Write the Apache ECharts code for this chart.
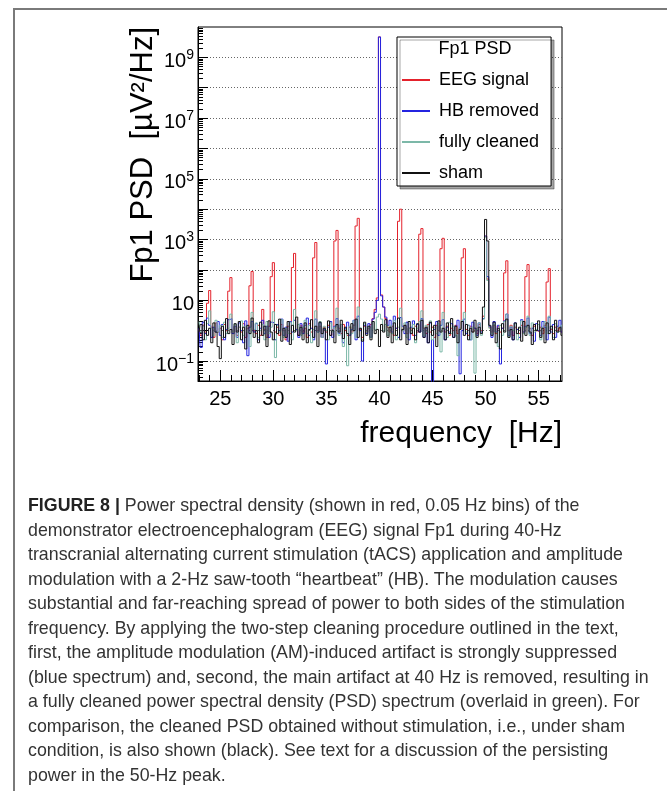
<!DOCTYPE html>
<html>
<head>
<meta charset="utf-8">
<script src="https://cdn.jsdelivr.net/npm/echarts@6/dist/echarts.min.js"></script>
<style>
  html, body { margin: 0; padding: 0; background: #fff; }
  body { width: 667px; height: 791px; position: relative; overflow: hidden; }
  .frame {
    position: absolute; left: 13px; top: 8px; width: 700px; height: 800px;
    border-left: 2px solid #7a7a7a; border-top: 2px solid #7a7a7a;
  }
  #chart { position: absolute; left: 0; top: 0; width: 667px; height: 500px; }
  .caption {
    position: absolute; left: 28px; top: 493px;
    font-family: "Liberation Sans", Arial, sans-serif;
    font-size: 17.8px; line-height: 24.5px; color: #333;
    white-space: nowrap;
  }
  .caption b { color: #222; }
</style>
</head>
<body>
<div class="frame"></div>
<div id="chart"></div>
<div class="caption">
  <b>FIGURE 8 |</b> Power spectral density (shown in red, 0.05 Hz bins) of the<br>
  demonstrator electroencephalogram (EEG) signal Fp1 during 40-Hz<br>
  transcranial alternating current stimulation (tACS) application and amplitude<br>
  modulation with a 2-Hz saw-tooth “heartbeat” (HB). The modulation causes<br>
  substantial and far-reaching spread of power to both sides of the stimulation<br>
  frequency. By applying the two-step cleaning procedure outlined in the text,<br>
  first, the amplitude modulation (AM)-induced artifact is strongly suppressed<br>
  (blue spectrum) and, second, the main artifact at 40 Hz is removed, resulting in<br>
  a fully cleaned power spectral density (PSD) spectrum (overlaid in green). For<br>
  comparison, the cleaned PSD obtained without stimulation, i.e., under sham<br>
  condition, is also shown (black). See text for a discussion of the persisting<br>
  power in the 50-Hz peak.
</div>
<script>
// bins: first bin centre and width (Hz), one row = 2 Hz
const f0 = 23;
const binWidth = 0.2;

// EEG signal (red)
const eegSignal = [
  1.1, 0.7, 1.5, 0.9, 8, 21, 1.3, 0.6, 1.8, 0.9,
  1.2, 0.5, 1.6, 1.0, 20, 56, 0.9, 1.4, 0.7, 1.3,
  0.9, 1.7, 0.6, 1.2, 30, 89, 1.0, 0.8, 1.5, 0.7,
  5, 1.1, 0.6, 1.4, 60, 174, 0.9, 1.3, 0.7, 1.6,
  1.0, 0.5, 1.4, 0.8, 120, 350, 1.1, 0.7, 1.5, 0.9,
  1.2, 0.6, 1.7, 0.9, 250, 800, 1.0, 1.4, 0.6, 1.3,
  0.9, 1.5, 0.7, 1.1, 900, 2000, 1.2, 0.8, 1.6, 1.0,
  0.7, 1.3, 0.9, 1.5, 2800, 5000, 1.1, 0.6, 1.4, 0.9,
  1.2, 1.6, 2.5, 5, 12, 4.7e9, 15, 6, 2.5, 1.3,
  0.9, 1.4, 0.7, 1.2, 4000, 10000, 1.0, 1.5, 0.8, 1.2,
  1.1, 0.7, 1.4, 0.9, 1500, 2300, 1.2, 0.8, 1.6, 0.9,
  1.3, 0.6, 1.5, 1.0, 500, 1100, 0.9, 1.4, 0.7, 1.2,
  1.0, 1.5, 0.8, 1.2, 250, 500, 1.1, 0.7, 1.4, 0.9,
  1.2, 0.8, 1.6, 1.0, 3, 1300, 50, 1.3, 0.9, 1.5,
  0.8, 1.4, 0.9, 1.2, 80, 200, 1.0, 1.5, 0.7, 1.3,
  1.1, 0.8, 1.5, 0.9, 60, 150, 1.2, 0.7, 1.4, 1.0,
  0.9, 1.3, 0.8, 1.5, 40, 110, 1.1, 0.8, 1.3, 1.0,
  1.2, 0.9
];

// HB removed (blue)
const hbRemoved = [
  1.2, 0.28, 1.9, 0.8, 2.6, 1.5, 0.6, 1.3, 0.9, 2.0,
  0.7, 1.6, 0.5, 1.1, 2.3, 2.5, 0.8, 1.4, 0.6, 1.8,
  1.0, 0.4, 2.1, 0.15, 1.3, 2.0, 0.9, 1.7, 0.5, 1.2,
  2.2, 0.8, 1.4, 0.6, 1.9, 1.8, 0.5, 1.6, 1.0, 2.4,
  0.7, 1.3, 0.45, 2.0, 0.9, 2.2, 1.1, 0.6, 1.7, 0.8,
  1.5, 2.6, 0.7, 1.2, 0.5, 2.4, 0.9, 1.8, 0.6, 1.1,
  0.08, 1.3, 2.0, 0.6, 1.4, 2.5, 0.8, 1.6, 0.4, 1.2,
  1.9, 0.7, 1.1, 2.2, 0.5, 3.0, 1.0, 0.1, 1.5, 0.8,
  1.7, 0.6, 2.4, 4, 10, 4.7e9, 14, 6, 2.8, 1.5,
  2.2, 0.9, 3.0, 1.2, 0.6, 2.7, 1.4, 0.8, 1.9, 0.5,
  1.3, 2.1, 0.7, 1.6, 0.9, 2.5, 0.6, 1.2, 0.4, 1.8,
  0.012, 1.1, 2.0, 0.7, 1.5, 2.3, 0.5, 1.3, 0.9, 1.7,
  0.6, 1.4, 2.2, 0.038, 1.0, 2.4, 0.8, 1.5, 0.5, 1.9,
  1.2, 0.7, 1.8, 0.9, 2.5, 1300, 60, 1.4, 0.6, 2.0,
  0.9, 1.5, 0.08, 1.2, 2.1, 3.5, 0.7, 1.3, 0.5, 1.8,
  1.1, 0.6, 2.3, 0.9, 1.4, 2.6, 0.8, 1.2, 0.45, 1.7,
  1.0, 0.7, 2.0, 1.3, 0.5, 2.8, 0.9, 1.6, 0.6, 1.4,
  2.2, 0.9
];

// fully cleaned (green)
const fullyCleaned = [
  2.0, 0.9, 1.4, 0.5, 1.7, 4.5, 1.2, 0.7, 2.2, 0.9,
  1.5, 0.6, 1.9, 0.8, 1.2, 3.5, 0.9, 1.6, 0.4, 1.3,
  2.1, 0.7, 1.4, 0.9, 0.3, 4.0, 1.1, 1.8, 0.6, 1.0,
  1.6, 0.5, 2.0, 0.8, 1.3, 4.2, 0.13, 1.5, 0.9, 2.3,
  0.6, 1.2, 0.8, 1.9, 0.5, 5.0, 1.0, 1.6, 0.7, 1.3,
  2.2, 0.8, 1.5, 0.4, 1.1, 4.5, 0.9, 2.0, 0.6, 1.4,
  1.0, 0.5, 1.8, 0.9, 1.3, 5.5, 0.7, 1.6, 0.3, 1.1,
  0.07, 1.4, 0.8, 2.1, 0.6, 6.0, 1.2, 0.5, 1.7, 0.9,
  1.3, 0.6, 2.0, 1.1, 2.8, 3.5, 2.4, 1.0, 1.6, 0.7,
  1.5, 0.8, 2.2, 0.5, 1.3, 5.5, 1.0, 1.8, 0.6, 1.2,
  0.9, 1.6, 0.4, 1.2, 2.0, 4.5, 0.7, 1.5, 0.9, 2.1,
  0.5, 1.3, 0.8, 1.7, 0.2, 4.0, 1.1, 0.6, 1.9, 0.8,
  1.4, 0.7, 0.15, 1.2, 2.2, 4.0, 0.9, 1.5, 0.5, 1.3,
  0.04, 1.1, 1.8, 0.7, 2.4, 1200, 45, 1.2, 0.8, 1.6,
  0.9, 0.3, 1.5, 0.7, 2.0, 3.5, 0.6, 1.4, 1.0, 1.7,
  0.5, 1.2, 2.1, 0.8, 1.3, 3.0, 0.7, 1.8, 0.9, 1.1,
  1.6, 0.5, 1.3, 2.0, 0.8, 3.0, 1.2, 0.6, 1.7, 0.9,
  1.0, 1.5
];

// sham (black)
const sham = [
  0.9, 1.6, 0.5, 2.2, 0.7, 1.2, 0.4, 1.8, 0.9, 0.3,
  0.12, 1.4, 0.6, 2.5, 0.8, 1.1, 0.35, 1.7, 0.9, 2.0,
  0.5, 1.3, 0.25, 1.5, 0.8, 2.6, 0.6, 1.0, 0.4, 1.9,
  0.7, 1.4, 0.3, 2.1, 0.9, 0.5, 1.6, 0.8, 2.4, 0.45,
  1.2, 0.6, 2.0, 0.35, 1.5, 0.9, 2.8, 0.7, 1.3, 0.5,
  1.8, 0.4, 1.1, 2.3, 0.6, 1.4, 0.3, 1.9, 0.8, 1.2,
  0.5, 2.1, 0.7, 1.0, 0.4, 1.6, 0.9, 2.2, 0.55, 1.3,
  0.8, 0.35, 1.7, 1.0, 2.4, 0.6, 1.2, 0.45, 1.9, 0.7,
  1.4, 0.5, 2.0, 0.8, 1.1, 0.3, 1.6, 0.9, 2.3, 0.6,
  1.3, 0.4, 1.8, 0.7, 2.6, 0.5, 1.1, 1.5, 0.35, 2.0,
  0.8, 1.2, 0.5, 1.7, 0.9, 2.2, 0.6, 1.3, 0.4, 1.9,
  0.7, 1.5, 0.3, 2.1, 0.9, 1.2, 0.5, 1.8, 0.8, 2.5,
  0.6, 1.4, 0.4, 1.1, 2.0, 0.7, 1.6, 0.5, 1.2, 0.9,
  2.2, 0.6, 1.3, 0.8, 6, 4600, 900, 1.5, 0.7, 1.9,
  0.4, 1.2, 0.25, 1.7, 0.9, 2.4, 0.6, 1.1, 0.5, 1.8,
  0.8, 1.3, 0.45, 2.0, 0.7, 1.5, 0.9, 0.35, 1.6, 1.0,
  2.1, 0.6, 1.2, 0.4, 1.8, 0.8, 1.4, 0.5, 2.2, 0.9,
  1.3, 0.7
];

const seriesNames = ['EEG signal', 'HB removed', 'fully cleaned', 'sham'];
const seriesColors = ['#e4222c', '#2424e0', '#7cb8a8', '#111111'];
const xLabels = [25, 30, 35, 40, 45, 50, 55];
const yLabels = [0.1, 10, 1e3, 1e5, 1e7, 1e9];
const yDecades = [0.1, 1, 10, 100, 1e3, 1e4, 1e5, 1e6, 1e7, 1e8, 1e9];

const xMinor = [];
for (let f = 23; f <= 57; f++) xMinor.push(f);
// log minor ticks 2..9 x 10^n
const yMinor = [];
for (let e = -2; e <= 9; e++) {
  for (let k = 2; k <= 9; k++) yMinor.push(k * Math.pow(10, e));
}

const freqs = sham.map((v, i) => +(f0 + i * binWidth).toFixed(2));
function pairs(vals) {
  return vals.map((v, i) => [freqs[i], v]);
}

const FONT = 'Liberation Sans';
const myChart = echarts.init(document.getElementById('chart'));

function lineSeries(name, vals, color) {
  return {
    name: name,
    type: 'line',
    step: 'middle',
    showSymbol: false,
    symbol: 'none',
    data: pairs(vals),
    lineStyle: { color: color, width: 1 },
    itemStyle: { color: color },
    emphasis: { disabled: true },
  };
}

const option = {
  animation: false,
  backgroundColor: 'transparent',
  grid: {
    left: 198,
    top: 27,
    right: 105,
    bottom: 119,
    show: true,
    borderColor: '#000',
    borderWidth: 1,
  },
  xAxis: [
    {
      type: 'value',
      min: 22.9,
      max: 57.2,
      axisLine: { lineStyle: { color: '#000', width: 1 } },
      axisTick: {
        inside: true,
        length: 11,
        customValues: xLabels,
        lineStyle: { color: '#000' },
      },
      axisLabel: {
        customValues: xLabels,
        fontFamily: FONT,
        fontSize: 20,
        color: '#000',
        margin: 8,
      },
      splitLine: { show: false },
    },
    {
      type: 'value',
      min: 22.9,
      max: 57.2,
      position: 'bottom',
      axisLine: { show: false },
      axisTick: {
        inside: true,
        length: 6,
        customValues: xMinor,
        lineStyle: { color: '#000' },
      },
      axisLabel: { show: false },
      splitLine: { show: false },
    },
  ],
  yAxis: [
    {
      type: 'log',
      logBase: 10,
      min: 0.022,
      max: 1e10,
      axisLine: { show: true, lineStyle: { color: '#000', width: 1 } },
      axisTick: {
        inside: true,
        length: 10,
        customValues: yDecades,
        lineStyle: { color: '#000' },
      },
      splitLine: {
        show: true,
        lineStyle: { color: '#666', width: 1, type: [1, 2] },
      },
      axisLabel: {
        customValues: yLabels,
        fontFamily: FONT,
        fontSize: 20,
        color: '#000',
        margin: 4,
        padding: [8, 0, 0, 0],
        formatter: function (v) {
          const e = Math.round(Math.log10(v));
          if (e === 1) return '10';
          return '10{sup|' + (e < 0 ? '\u2212' + -e : e) + '}';
        },
        rich: {
          sup: { fontFamily: FONT, fontSize: 14, color: '#000', padding: [0, 0, 12, 0] },
        },
      },
    },
    {
      type: 'log',
      logBase: 10,
      min: 0.022,
      max: 1e10,
      position: 'left',
      axisLine: { show: false },
      axisTick: {
        inside: true,
        length: 5,
        customValues: yMinor,
        lineStyle: { color: '#000' },
      },
      axisLabel: { show: false },
      splitLine: { show: false },
    },
  ],
  legend: {
    orient: 'vertical',
    left: 397,
    top: 37,
    padding: [34, 12, 4, 5],
    icon: 'rect',
    itemWidth: 28,
    itemHeight: 2,
    itemGap: 13,
    backgroundColor: '#fff',
    borderColor: '#000',
    borderWidth: 1,
    shadowColor: 'rgba(0,0,0,0.35)',
    shadowOffsetX: 3,
    shadowOffsetY: 3,
    shadowBlur: 0,
    selectedMode: false,
    textStyle: { fontFamily: FONT, fontSize: 18, color: '#000', lineHeight: 18, padding: [0, 0, 0, 4] },
    data: seriesNames,
  },
  graphic: [
    {
      // legend header
      type: 'text',
      z: 100,
      x: 475,
      y: 49,
      style: {
        text: 'Fp1 PSD',
        fontFamily: FONT,
        fontSize: 18,
        fill: '#000',
        textAlign: 'center',
        textVerticalAlign: 'middle',
      },
    },
    {
      // y axis title
      type: 'text',
      x: 143,
      y: 27,
      rotation: Math.PI / 2,
      style: {
        text: 'Fp1 PSD  [\u00b5V\u00b2/Hz]',
        fontFamily: FONT,
        fontSize: 31,
        fill: '#000',
        textAlign: 'right',
        textVerticalAlign: 'middle',
      },
    },
    {
      // x axis title
      type: 'text',
      x: 562,
      y: 434,
      style: {
        text: 'frequency  [Hz]',
        fontFamily: FONT,
        fontSize: 30,
        fill: '#000',
        textAlign: 'right',
        textVerticalAlign: 'middle',
      },
    },
  ],
  series: [
    lineSeries(seriesNames[0], eegSignal, seriesColors[0]),
    lineSeries(seriesNames[1], hbRemoved, seriesColors[1]),
    lineSeries(seriesNames[2], fullyCleaned, seriesColors[2]),
    lineSeries(seriesNames[3], sham, seriesColors[3]),
  ],
};

myChart.setOption(option);
</script>
</body>
</html>
